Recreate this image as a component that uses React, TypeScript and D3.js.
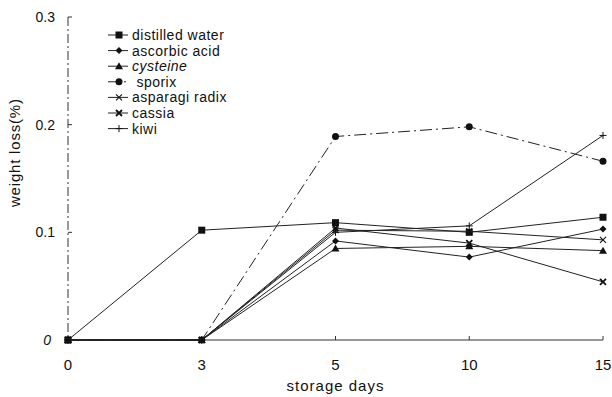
import React from 'react';
import * as d3 from 'd3';

const days = ['0', '3', '5', '10', '15'];
const yTicks = [0, 0.1, 0.2, 0.3];
const yTickLabels = ['0', '0.1', '0.2', '0.3'];

const seriesNames = ['distilled water', 'ascorbic acid', 'cysteine', ' sporix', 'asparagi radix', 'cassia', 'kiwi'];
const seriesSymbols = ['square', 'diamond', 'triangle', 'circle', 'x', 'xbold', 'plus'];
const seriesDash = ['none', 'none', 'none', '12 4 2 4', 'none', 'none', 'none'];

const distilledWater = [0, 0.102, 0.109, 0.1, 0.114];
const ascorbicAcid = [0, 0, 0.092, 0.077, 0.103];
const cysteine = [0, 0, 0.085, 0.087, 0.083];
const sporix = [0, 0, 0.189, 0.198, 0.166];
const asparagiRadix = [0, 0, 0.102, 0.101, 0.093];
const cassia = [0, 0, 0.104, 0.09, 0.054];
const kiwi = [0, 0, 0.1, 0.106, 0.19];

const seriesValues = [distilledWater, ascorbicAcid, cysteine, sporix, asparagiRadix, cassia, kiwi];

const Marker = ({ type, cx, cy }: { type: string; cx: number; cy: number }) => {
  const c = '#111';
  if (type === 'square') return <rect x={cx - 3.5} y={cy - 3.5} width={7} height={7} fill={c} />;
  if (type === 'diamond') return <path d={`M${cx},${cy - 3.5}L${cx + 3.5},${cy}L${cx},${cy + 3.5}L${cx - 3.5},${cy}Z`} fill={c} />;
  if (type === 'triangle') return <path d={`M${cx},${cy - 4}L${cx + 4},${cy + 3}L${cx - 4},${cy + 3}Z`} fill={c} />;
  if (type === 'circle') return <circle cx={cx} cy={cy} r={3.5} fill={c} />;
  if (type === 'x' || type === 'xbold') {
    const s = 3;
    return (
      <path
        d={`M${cx - s},${cy - s}L${cx + s},${cy + s}M${cx - s},${cy + s}L${cx + s},${cy - s}`}
        stroke={c}
        strokeWidth={type === 'xbold' ? 1.8 : 1.1}
      />
    );
  }
  return <path d={`M${cx - 3.5},${cy}L${cx + 3.5},${cy}M${cx},${cy - 3.5}L${cx},${cy + 3.5}`} stroke={c} strokeWidth={1} />;
};

export default function App() {
  const width = 612;
  const height = 397;
  const margin = { top: 17, right: 9, bottom: 57, left: 68 };
  const innerWidth = width - margin.left - margin.right;
  const innerHeight = height - margin.top - margin.bottom;

  const x = d3.scalePoint<string>().domain(days).range([0, innerWidth]);
  const y = d3.scaleLinear().domain([0, 0.3]).range([innerHeight, 0]);

  const line = d3
    .line<number>()
    .x((_, i) => x(days[i]) as number)
    .y((d) => y(d));

  const font = '"Liberation Sans", Arial, sans-serif';

  return (
    <div style={{ position: 'fixed', left: 0, top: 0 }}>
      <svg width={width} height={height} style={{ display: 'block', background: '#fff' }} fontFamily={font}>
        <g transform={`translate(${margin.left},${margin.top})`}>
          {/* left axis, broken as in the scan */}
          <line x1={0} x2={0} y1={0} y2={innerHeight} stroke="#333" strokeWidth={1} strokeDasharray="9 3 2 3" />
          <line x1={0} x2={4} y1={0} y2={0} stroke="#333" />
          {yTicks.map((t, i) => (
            <g key={t}>
              {t > 0 && t < 0.3 && <line x1={0} x2={4} y1={y(t)} y2={y(t)} stroke="#333" />}
              <text
                x={t === 0 ? -17 : -13}
                y={y(t)}
                dy="0.35em"
                textAnchor="end"
                fontSize={14}
                fill="#111"
                fontStyle={t === 0 ? 'italic' : 'normal'}
              >
                {yTickLabels[i]}
              </text>
            </g>
          ))}
          <text
            transform={`translate(${-48},${innerHeight * 0.42}) rotate(-90)`}
            textAnchor="middle"
            fontSize={15}
            letterSpacing={0.8}
            fill="#111"
          >
            weight loss(%)
          </text>

          {/* bottom axis */}
          <line x1={0} x2={innerWidth} y1={innerHeight} y2={innerHeight} stroke="#333" strokeWidth={1.2} />
          {days.map((d) => (
            <g key={d}>
              {d !== '0' && d !== '3' && (
                <line x1={x(d)} x2={x(d)} y1={innerHeight} y2={innerHeight - 4} stroke="#333" />
              )}
              <text x={x(d)} y={innerHeight + 30} textAnchor="middle" fontSize={15} fill="#111">
                {d}
              </text>
            </g>
          ))}
          <text x={innerWidth / 2} y={innerHeight + 51} textAnchor="middle" fontSize={15} fill="#111" letterSpacing={1}>
            storage days
          </text>

          {/* series */}
          {seriesValues.map((vals, si) => (
            <g key={seriesNames[si]}>
              <path
                d={line(vals) || ''}
                fill="none"
                stroke="#222"
                strokeWidth={1}
                strokeDasharray={seriesDash[si]}
              />
              {vals.map((v, i) => (
                <Marker key={i} type={seriesSymbols[si]} cx={x(days[i]) as number} cy={y(v)} />
              ))}
            </g>
          ))}
        </g>

        {/* legend */}
        <g transform="translate(108,35)">
          {seriesNames.map((name, i) => (
            <g key={name} transform={`translate(0,${i * 15.6})`}>
              <line x1={0} x2={20} y1={0} y2={0} stroke="#222" strokeDasharray={seriesDash[i]} />
              <Marker type={seriesSymbols[i]} cx={11} cy={0} />
              <text
                x={24}
                y={0}
                dy="0.35em"
                fontSize={14}
                fill="#111"
                letterSpacing={0.5}
                fontStyle={name === 'cysteine' ? 'italic' : 'normal'}
                style={{ whiteSpace: 'pre' }}
              >
                {name}
              </text>
            </g>
          ))}
        </g>
      </svg>
    </div>
  );
}
